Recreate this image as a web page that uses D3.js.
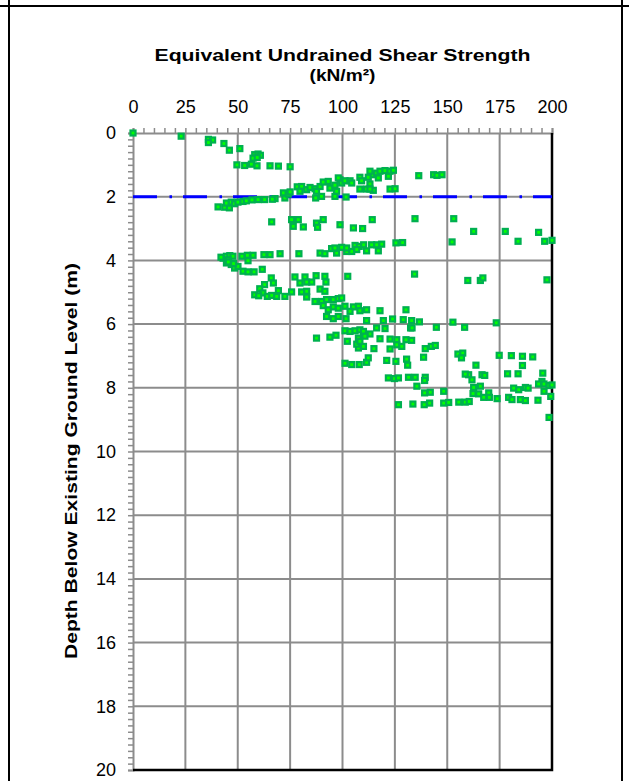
<!DOCTYPE html>
<html>
<head>
<meta charset="utf-8">
<script src="https://cdn.jsdelivr.net/npm/d3@7"></script>
<style>
  body { margin: 0; background: #fff; }
  svg { display: block; font-family: "Liberation Sans", Arial, sans-serif; }
</style>
</head>
<body>
<svg width="629" height="781"></svg>
<script>
// Su (kN/m2) vs depth (m) pairs, grouped by depth band
const crustPts = [
  [0, 0], [23, 0.1], [36, 0.2], [38, 0.22], [36, 0.3], [43.4, 0.33], [46, 0.54], [51, 0.49],
  [49.6, 1.0], [53.3, 1.02], [56.5, 0.98], [59.2, 1.03], [58.1, 0.68], [59.7, 0.66], [60.8, 0.7],
  [57.3, 0.79], [59.3, 0.77], [65.4, 1.03], [69.4, 1.04], [75, 1.06]
];
const upperPts = [
  [67.8, 2.06], [72.5, 2.04], [71.8, 1.88], [74.1, 1.92], [75, 1.85], [78.4, 1.69], [80.5, 1.68],
  [79.7, 1.83], [82.9, 1.78], [84.5, 1.71], [86.9, 1.75], [87.6, 1.83], [89.3, 1.68], [90.8, 1.54],
  [93.2, 1.52], [94, 1.73], [90, 1.99], [87.2, 2.04], [96.4, 1.99], [97.2, 1.83], [96.4, 1.64],
  [98.8, 1.47], [99.6, 1.57], [98, 1.41], [101.2, 1.5], [103.6, 1.5], [101.7, 2.01], [104.4, 1.57],
  [108.3, 1.39], [109.1, 1.5], [112.3, 1.39], [114.7, 1.31], [113.1, 1.2], [116.3, 1.26],
  [117.9, 1.2], [120.3, 1.18], [122.7, 1.2], [124.3, 1.17], [121.9, 1.36], [117.1, 1.41],
  [113.1, 1.6], [108.3, 1.76], [111.5, 1.76], [114.7, 1.8], [122.7, 1.76], [125.1, 1.75],
  [113.1, 1.76], [136.4, 1.34], [143.5, 1.31], [145.1, 1.33], [147.5, 1.31],
  [40.6, 2.32], [43.8, 2.33], [46, 2.35], [44.6, 2.2], [46.9, 2.17], [48.5, 2.22], [50.1, 2.17],
  [52.5, 2.15], [54.1, 2.13], [56.8, 2.1], [59.7, 2.09], [62.8, 2.09], [66.5, 2.08]
];
const midPts = [
  [66.2, 2.79], [75.7, 2.72], [78.9, 2.72], [76.5, 2.93], [81.3, 2.95], [87.6, 2.83], [90.8, 2.72],
  [88.1, 2.96], [98.8, 2.88], [105.2, 2.98], [109.6, 3.0], [114.2, 2.72], [134.6, 2.69],
  [153.1, 2.69], [162.6, 3.09], [177.7, 3.09], [193.6, 3.12], [183.8, 3.4], [152.3, 3.42],
  [196.5, 3.4], [200, 3.37],
  [65.4, 3.82], [70.2, 3.79], [79.2, 3.79], [89.3, 3.77], [91.6, 3.79], [94.8, 3.63], [97.2, 3.77],
  [99.6, 3.59], [102, 3.72], [104.4, 3.72], [106, 3.53], [108, 3.56], [111.5, 3.7], [113.9, 3.51],
  [117.1, 3.7], [118.7, 3.49], [125.5, 3.45], [128.7, 3.44], [96.4, 3.61], [102, 3.61],
  [106.8, 3.66], [110.1, 3.51], [116.3, 3.51],
  [43, 3.93], [44.6, 3.87], [46.2, 3.85], [47.7, 3.87], [44.6, 4.08], [45.4, 3.98], [46.9, 4.13],
  [48.5, 4.24], [50.1, 4.19], [52.5, 4.34], [54.9, 4.36], [57.8, 4.36], [52, 3.87], [54.6, 3.84],
  [57.3, 3.84], [54.9, 4.01], [61.7, 4.28], [62.5, 3.82], [42, 3.9], [45.5, 4.05], [48, 4.1]
];
const lowerPts = [
  [66, 4.55], [62.8, 4.76], [60.5, 4.89], [62, 5.02], [58.1, 5.08], [60, 5.11], [64.1, 5.13],
  [67, 4.71], [66.2, 5.1], [69.4, 4.95], [72.5, 5.13], [68.6, 5.13], [77.3, 4.52], [79.7, 4.71],
  [82.1, 4.52], [82.9, 4.68], [85.3, 4.68], [87.4, 4.48], [91.6, 4.5], [92.1, 4.68], [89.3, 4.9],
  [91.6, 4.97], [75.7, 4.99], [80.5, 4.99], [82.9, 4.97], [82.9, 5.15], [86.9, 5.29], [90, 5.29],
  [92.4, 5.23], [95.6, 5.23], [98, 5.2], [99.6, 5.18], [90.8, 5.42], [95.6, 5.46], [93.2, 5.55],
  [98, 5.5], [101.2, 5.44], [105.2, 5.46], [107.6, 5.44], [108.3, 5.58], [103.6, 5.6], [111.5, 5.55],
  [117.9, 5.58], [130.3, 5.55], [92.4, 5.76], [95.6, 5.83], [98, 5.76], [101.7, 5.83], [111.5, 5.89],
  [119.5, 5.89], [123.9, 5.84], [129, 5.86], [133, 5.89], [132.5, 6.12], [120.3, 6.14], [102.5, 4.5],
  [134.4, 4.43], [159.8, 4.63], [165.8, 4.63], [167, 4.55], [197.6, 4.61], [136.7, 5.93],
  [133.2, 6.12], [144.8, 6.1], [152.7, 5.94], [158.3, 6.1], [173.4, 5.96]
];
const deepPts = [
  [87.6, 6.44], [94, 6.41], [96.9, 6.35], [101.2, 6.21], [103.6, 6.23], [106, 6.21], [108.3, 6.18],
  [110, 6.23], [113.1, 6.31], [116.3, 6.12], [102.3, 6.54], [107.6, 6.44], [110.7, 6.38],
  [117.9, 6.46], [122.7, 6.47], [125.9, 6.49], [130.3, 6.49], [133, 6.51], [122.7, 6.78],
  [125.9, 6.65], [128.3, 6.7], [107.6, 6.75], [110, 6.7], [115, 6.77], [106.8, 6.63], [108.3, 6.54],
  [139.5, 6.77], [142.4, 6.7], [144.3, 6.67], [138.7, 7.04], [155.1, 6.94], [157.4, 6.91],
  [156.8, 7.06], [174.8, 6.98], [180.6, 6.99], [185.9, 7.01], [190.8, 7.03], [163.7, 7.29],
  [185.9, 7.3], [101.2, 7.23], [104.4, 7.27], [108, 7.27], [111.5, 7.2], [112.3, 7.06],
  [121.1, 7.14], [125.5, 7.17], [130.6, 7.1], [131.1, 7.29]
];
const basePts = [
  [121.9, 7.69], [124.8, 7.71], [126.7, 7.69], [131.5, 7.67], [126.7, 8.53], [133.6, 8.51],
  [134.7, 7.67], [139.5, 7.67], [135.5, 7.95], [139.2, 7.77], [139.2, 8.16], [141.9, 8.14],
  [148.3, 8.11], [160.2, 7.59], [158.6, 7.57], [161.8, 7.75], [166.6, 7.59], [167.9, 7.61],
  [162.6, 7.99], [165.8, 7.95], [162.3, 8.18], [165, 8.19], [167.4, 8.3], [169.8, 8.16],
  [170.1, 8.3], [173.8, 8.34], [178.8, 7.56], [183.8, 7.56], [195.6, 7.54], [195.2, 7.8],
  [193.6, 7.88], [196.2, 7.88], [198.6, 7.93], [200, 7.91], [181.7, 8.01], [184.1, 8.06],
  [187.3, 7.99], [188.6, 8.01], [179.3, 8.3], [180.9, 8.37], [184.9, 8.37], [187.3, 8.4],
  [193.3, 8.39], [196.2, 8.11], [199.4, 8.27], [139, 8.53], [141.6, 8.48], [148.3, 8.48],
  [150.7, 8.46], [155.5, 8.45], [158.6, 8.45], [160.5, 8.43], [198.6, 8.93]
];

const xTicks = d3.range(0, 201, 25);
const yTicks = d3.range(0, 21, 2);
const groundwaterDepth = 2;

const svg = d3.select("svg");

const x = d3.scaleLinear().domain([0, 200]).range([133, 552]);
const y = d3.scaleLinear().domain([0, 20]).range([133, 770]);

// page/table frame
svg.append("line").attr("x1", 0).attr("x2", 629).attr("y1", 6).attr("y2", 6)
    .attr("stroke", "#000").attr("stroke-width", 2);
[9, 622].forEach(px => svg.append("line").attr("x1", px).attr("x2", px)
    .attr("y1", 0).attr("y2", 781).attr("stroke", "#000").attr("stroke-width", 2));

// grid
const grid = svg.append("g").attr("stroke", "#8c8c8c").attr("stroke-width", 2);
grid.selectAll(".vx").data(xTicks.slice(1, -1)).enter().append("line")
    .attr("x1", d => x(d)).attr("x2", d => x(d))
    .attr("y1", y(0)).attr("y2", y(20));
grid.selectAll(".hy").data(yTicks.slice(1, -1)).enter().append("line")
    .attr("x1", x(0)).attr("x2", x(200))
    .attr("y1", d => y(d)).attr("y2", d => y(d));

// axes
const xAxis = d3.axisTop(x)
    .tickValues(d3.range(0, 201, 5))
    .tickSize(5)
    .tickPadding(15)
    .tickFormat(d => d % 25 === 0 ? d : "");
const yAxis = d3.axisLeft(y)
    .tickValues(d3.range(0, 20.01, 0.2).map(v => +v.toFixed(1)))
    .tickSize(5)
    .tickPadding(12)
    .tickFormat(d => Math.abs(d % 2) < 1e-6 ? d : "");

const gx = svg.append("g").attr("transform", `translate(0,${y(0)})`).call(xAxis);
const gy = svg.append("g").attr("transform", `translate(${x(0)},0)`).call(yAxis);
[gx, gy].forEach(g => {
    g.attr("font-size", 18).attr("font-family", "Liberation Sans, Arial, sans-serif");
    g.select(".domain").attr("stroke", "#8c8c8c").attr("stroke-width", 2);
    g.selectAll(".tick line").attr("stroke", "#8c8c8c").attr("stroke-width", 1.5);
    g.selectAll(".tick text").attr("fill", "#000");
});

// black right / bottom frame of plot
svg.append("path")
    .attr("d", `M${x(200)},${y(0)}V${y(20)}H${x(0)}`)
    .attr("fill", "none").attr("stroke", "#000").attr("stroke-width", 2.5);

// groundwater line
svg.append("line")
    .attr("x1", x(0)).attr("x2", x(200))
    .attr("y1", y(groundwaterDepth)).attr("y2", y(groundwaterDepth))
    .attr("stroke", "#0000ff").attr("stroke-width", 3)
    .attr("stroke-dasharray", "24,12.5,2.5,11");

// points
const allPts = [].concat(crustPts, upperPts, midPts, lowerPts, deepPts, basePts);
svg.append("g").selectAll("rect").data(allPts).enter().append("rect")
    .attr("x", d => x(d[0]) - 2.5)
    .attr("y", d => y(d[1]) - 2.5)
    .attr("width", 5).attr("height", 5)
    .attr("fill", "#00ff00")
    .attr("stroke", "#00b050")
    .attr("stroke-width", 2.2);

// titles (reference text is wide, so stretch to its measured width)
const cx = (x(0) + x(200)) / 2;
svg.append("text")
    .attr("x", cx).attr("y", 60.5)
    .attr("text-anchor", "middle").attr("font-weight", "bold").attr("font-size", 17)
    .attr("textLength", 376).attr("lengthAdjust", "spacingAndGlyphs")
    .text("Equivalent Undrained Shear Strength");
svg.append("text")
    .attr("x", cx).attr("y", 80.5)
    .attr("text-anchor", "middle").attr("font-weight", "bold").attr("font-size", 17)
    .attr("textLength", 66).attr("lengthAdjust", "spacingAndGlyphs")
    .text("(kN/m²)");

svg.append("text")
    .attr("transform", "translate(77,461) rotate(-90)")
    .attr("text-anchor", "middle").attr("font-weight", "bold").attr("font-size", 17)
    .attr("textLength", 396).attr("lengthAdjust", "spacingAndGlyphs")
    .text("Depth Below Existing Ground Level (m)");
</script>
</body>
</html>
